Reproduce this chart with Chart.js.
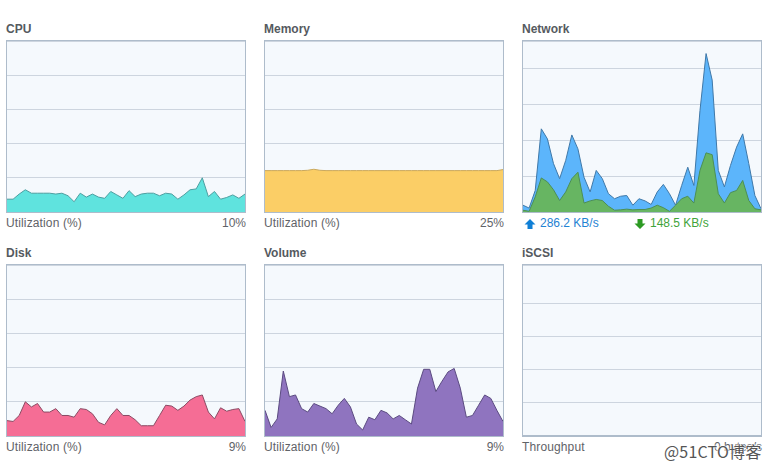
<!DOCTYPE html>
<html>
<head>
<meta charset="utf-8">
<script src="https://cdn.jsdelivr.net/npm/chart.js@4"></script>
<style>
    html, body { margin: 0; padding: 0; background: #fff; }
    body { width: 771px; height: 470px; position: relative; overflow: hidden; font: 12px "Liberation Sans", sans-serif; color: #5f6368; }
    .panel { position: absolute; width: 240px; }
    .title { position: absolute; left: 0; top: 1px; font-weight: bold; color: #555a60; line-height: 14px; }
    .plot { position: absolute; left: 0; top: 19px; width: 238px; height: 171px; border: 1px solid #aebccb; background: #f5f9fd; }
    .plot canvas { display: block; }
    .label { position: absolute; left: 0; top: 195px; line-height: 14px; white-space: nowrap; letter-spacing: 0.13px; }
    .value { position: absolute; right: 0; top: 195px; line-height: 14px; }
    .rate { position: absolute; top: 195px; line-height: 14px; white-space: nowrap; }
    .rate svg { position: absolute; left: -16px; top: 2px; }
    #watermark { position: absolute; left: 664px; top: 441px; font: 16px "Noto Sans CJK SC", sans-serif; line-height: 20px; color: #555; text-shadow: 0 0 2px #fff, 0 0 2px #fff, 0 0 2px #fff; white-space: nowrap; letter-spacing: 0.2px; }
</style>
</head>
<body>
<div id="panels"></div>
<div id="watermark">@51CTO博客</div>

<script>
const samples = ['0','1','2','3','4','5','6','7','8','9','10','11','12','13','14','15','16','17','18','19',
    '20','21','22','23','24','25','26','27','28','29','30','31','32','33','34','35','36','37','38','39'];

const cpuValues = [7.5,7.5,10.5,13,11,11,11,11,10.5,11,9.5,6,11,8.7,10.5,8.7,8,12,10,8,
    12.5,9,10.5,11,11,9.5,11,10.5,7.5,10,13,13.5,20,9,12,7.5,8.5,10,8,10.5];
const memoryValues = [24.2,24.2,24.2,24.2,24.2,24.2,24.2,24.4,25,24.4,24.2,24.2,24.2,24.2,24.2,24.2,24.2,24.2,24.2,24.2,
    24.2,24.2,24.2,24.2,24.2,24.2,24.2,24.2,24.2,24.2,24.2,24.2,24.2,24.2,24.2,24.2,24.2,24.2,24.2,24.8];
const uploadValues = [19,11,60,232,204,135,93,144,215,176,97,56,116,93,51,37,44,46,19,37,
    31,21,56,77,51,19,74,125,74,283,442,368,116,70,130,181,218,135,46,9];
const downloadValues = [5,2,42,95,84,62,32,56,93,111,25,31,35,32,16,5,6,8,6,7,
    7,11,19,12,2,19,37,44,25,116,165,160,51,25,54,60,88,32,9,6];
const diskValues = [9,8.5,12,20,17,19,14,14,16,12,12,11,16,15.5,13,8,6.5,12,16,12,
    12,9.5,6,6,6,12,18,17.5,15,17.5,21,23,24,14,10,16.5,14.5,15.5,16,8.5];
const volumeValues = [15,5,10,38,23,24,16,14,19,17.5,16,13,18,22,17,7,3.5,11,9.5,15,
    13.5,10,12,9.5,7,28,39,39,26,32,37.5,39.5,28,11,12,18,24,22,15,8.5];
const iscsiValues = [0,0,0,0,0,0,0,0,0,0,0,0,0,0,0,0,0,0,0,0,
    0,0,0,0,0,0,0,0,0,0,0,0,0,0,0,0,0,0,0,0];

const panels = [
    { id: 'cpu', title: 'CPU', left: 6, top: 21, max: 100, step: 20, label: 'Utilization (%)', value: '10%',
      series: [{ data: cpuValues, fill: '#5fe3de', line: '#4d9ea0', width: 1 }] },
    { id: 'memory', title: 'Memory', left: 264, top: 21, max: 100, step: 20, label: 'Utilization (%)', value: '25%',
      series: [{ data: memoryValues, fill: '#fbce66', line: '#c9a85e', width: 1 }] },
    { id: 'network', title: 'Network', left: 522, top: 21, max: 477, step: 100, rates: true,
      series: [
          { data: downloadValues, fill: '#67b562', line: '#4c8f55', width: 1 },
          { data: uploadValues, fill: '#5cb5fb', line: '#3f78a8', width: 1 }
      ] },
    { id: 'disk', title: 'Disk', left: 6, top: 245, max: 100, step: 20, label: 'Utilization (%)', value: '9%',
      series: [{ data: diskValues, fill: '#f56d95', line: '#8a4a63', width: 1 }] },
    { id: 'volume', title: 'Volume', left: 264, top: 245, max: 100, step: 20, label: 'Utilization (%)', value: '9%',
      series: [{ data: volumeValues, fill: '#8f74bf', line: '#5a4a80', width: 1 }] },
    { id: 'iscsi', title: 'iSCSI', left: 522, top: 245, max: 516, step: 100, label: 'Throughput', value: '0 bytes/s',
      series: [{ data: iscsiValues, fill: '#aebccb', line: '#aebccb', width: 2 }] }
];

function buildPanel(panel) {
    const box = document.createElement('div');
    box.className = 'panel';
    box.style.left = panel.left + 'px';
    box.style.top = panel.top + 'px';

    let footer;
    if (panel.rates) {
        // Network shows the two rates instead of a label and a value
        footer = `
            <div class="rate" style="left:18px;color:#1f83d3"><svg width="12" height="12" viewBox="0 0 12 12"><path d="M6 1 L11.5 6.5 L8.5 6.5 L8.5 11 L3.5 11 L3.5 6.5 L0.5 6.5 Z" fill="#0f7fd6"/></svg>286.2 KB/s</div>
            <div class="rate" style="left:128px;color:#3fa33a"><svg width="12" height="12" viewBox="0 0 12 12"><path d="M6 11 L11.5 5.5 L8.5 5.5 L8.5 1 L3.5 1 L3.5 5.5 L0.5 5.5 Z" fill="#2c9a23"/></svg>148.5 KB/s</div>`;
    } else {
        footer = `<div class="label">${panel.label}</div><div class="value">${panel.value}</div>`;
    }

    box.innerHTML = `<div class="title">${panel.title}</div>
        <div class="plot"><canvas id="${panel.id}-chart"></canvas></div>${footer}`;
    document.getElementById('panels').appendChild(box);

    const canvas = document.getElementById(panel.id + '-chart');
    canvas.style.width = '238px';
    canvas.style.height = '171px';
    canvas.width = 238;
    canvas.height = 171;

    new Chart(canvas, {
        type: 'line',
        data: {
            labels: samples,
            datasets: panel.series.map(s => ({
                data: s.data,
                backgroundColor: s.fill,
                borderColor: s.line,
                borderWidth: s.width,
                pointRadius: 0,
                tension: 0,
                fill: 'origin'
            }))
        },
        options: {
            animation: false,
            responsive: false,
            maintainAspectRatio: false,
            layout: { padding: 0 },
            plugins: { legend: { display: false }, tooltip: { enabled: false } },
            scales: {
                x: { display: false, offset: false },
                y: {
                    min: 0,
                    max: panel.max,
                    ticks: { display: false, stepSize: panel.step },
                    border: { display: false },
                    grid: { color: '#cdd5df', lineWidth: 1, drawTicks: false }
                }
            }
        }
    });
}

panels.forEach(buildPanel);
</script>
</body>
</html>
